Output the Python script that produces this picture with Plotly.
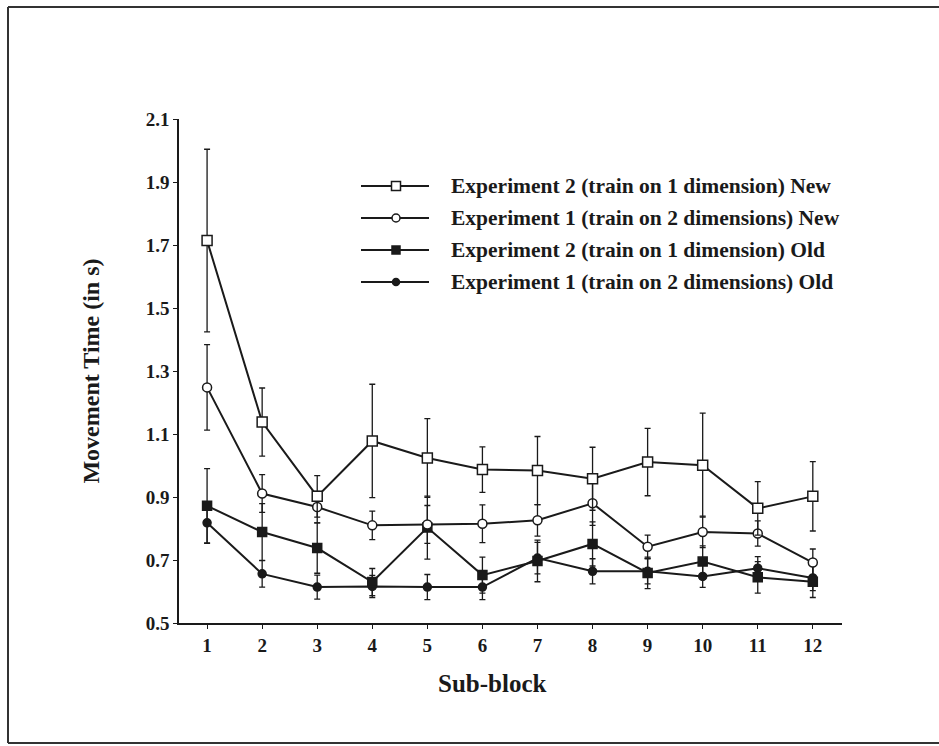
import plotly.graph_objects as go

# ---------------- data ----------------
sub_blocks = [1, 2, 3, 4, 5, 6, 7, 8, 9, 10, 11, 12]
tick_vals_y = [0.5, 0.7, 0.9, 1.1, 1.3, 1.5, 1.7, 1.9, 2.1]

series_names = [
    "Experiment 2 (train on 1 dimension) New",
    "Experiment 1 (train on 2 dimensions) New",
    "Experiment 2 (train on 1 dimension) Old",
    "Experiment 1 (train on 2 dimensions) Old",
]

exp2_new = [1.714, 1.138, 0.902, 1.078, 1.024, 0.987, 0.984, 0.958, 1.011, 1.001, 0.864, 0.902]
exp2_new_err = [0.29, 0.108, 0.066, 0.18, 0.125, 0.072, 0.108, 0.10, 0.107, 0.165, 0.085, 0.11]

exp1_new = [1.248, 0.911, 0.868, 0.810, 0.813, 0.815, 0.826, 0.880, 0.742, 0.789, 0.784, 0.692]
exp1_new_err = [0.136, 0.06, 0.05, 0.045, 0.06, 0.06, 0.05, 0.07, 0.037, 0.05, 0.04, 0.043]

exp2_old = [0.872, 0.789, 0.738, 0.630, 0.803, 0.652, 0.697, 0.751, 0.659, 0.695, 0.645, 0.631]
exp2_old_err = [0.118, 0.09, 0.08, 0.043, 0.10, 0.057, 0.066, 0.07, 0.05, 0.05, 0.05, 0.05]

exp1_old = [0.818, 0.656, 0.614, 0.616, 0.614, 0.614, 0.706, 0.664, 0.664, 0.648, 0.674, 0.643]
exp1_old_err = [0.065, 0.042, 0.038, 0.035, 0.04, 0.04, 0.05, 0.04, 0.04, 0.035, 0.037, 0.04]

values = [exp2_new, exp1_new, exp2_old, exp1_old]
errors = [exp2_new_err, exp1_new_err, exp2_old_err, exp1_old_err]

# ---------------- style ----------------
FONT = "Liberation Serif"
INK = "#1a1a1a"
styles = [
    dict(symbol="square", color="white", size=10),
    dict(symbol="circle", color="white", size=9),
    dict(symbol="square", color=INK, size=9),
    dict(symbol="circle", color=INK, size=8),
]

fig = go.Figure()

# draw old series first, new on top
for i in [3, 2, 1, 0]:
    st = styles[i]
    fig.add_trace(go.Scatter(
        x=sub_blocks, y=values[i], name=series_names[i],
        mode="lines+markers",
        line=dict(color=INK, width=2),
        marker=dict(symbol=st["symbol"], size=st["size"], color=st["color"],
                    line=dict(color=INK, width=1.5)),
        error_y=dict(type="data", array=errors[i], visible=True,
                     color=INK, thickness=1.3, width=3),
        showlegend=False,
    ))

W, H = 939, 746
L, R, T, B = 179, 97, 119, 123
pw, ph = W - L - R, H - T - B

def px_to_paper_x(px):
    return (px - L) / pw

def px_to_paper_y(py):
    return (H - B - py) / ph

# custom legend (long line samples like the original)
leg_rows_px = [186, 218, 250, 282]
for i in range(4):
    st = styles[i]
    yy = px_to_paper_y(leg_rows_px[i])
    fig.add_trace(go.Scatter(
        x=[px_to_paper_x(361), px_to_paper_x(429)], y=[yy, yy], xaxis="x2", yaxis="y2",
        mode="lines", line=dict(color=INK, width=2), showlegend=False,
        hoverinfo="skip"))
    fig.add_trace(go.Scatter(
        x=[px_to_paper_x(396)], y=[yy], xaxis="x2", yaxis="y2", mode="markers",
        marker=dict(symbol=st["symbol"], size=st["size"] - 1, color=st["color"],
                    line=dict(color=INK, width=1.5)),
        showlegend=False, hoverinfo="skip"))
    fig.add_annotation(x=px_to_paper_x(449), y=yy, xref="paper", yref="paper",
                       text=series_names[i], showarrow=False, xanchor="left",
                       yanchor="middle",
                       font=dict(family=FONT, size=21.5, color=INK, weight="bold"))

# x-axis title (slightly left of the plot centre, as in the original)
fig.add_annotation(x=px_to_paper_x(492), y=px_to_paper_y(683), xref="paper", yref="paper",
                   text="Sub-block", showarrow=False, xanchor="center", yanchor="middle",
                   font=dict(family=FONT, size=25, color=INK, weight="bold"))

# outer frame (top, left, bottom; right side runs past the picture)
frame_kw = dict(xref="paper", yref="paper", line=dict(color="#333333", width=2))
x_left, x_right = px_to_paper_x(8), px_to_paper_x(945)
y_top, y_bot = px_to_paper_y(7), px_to_paper_y(743)
fig.add_shape(type="line", x0=x_left, x1=x_right, y0=y_top, y1=y_top, **frame_kw)
fig.add_shape(type="line", x0=x_left, x1=x_left, y0=y_top, y1=y_bot, **frame_kw)
fig.add_shape(type="line", x0=x_left, x1=x_right, y0=y_bot, y1=y_bot, **frame_kw)

tickfont = dict(family=FONT, size=19, color=INK, weight="bold")

fig.update_layout(
    width=W, height=H,
    margin=dict(l=L, r=R, t=T, b=B),
    paper_bgcolor="white", plot_bgcolor="white",
    font=dict(family=FONT, color=INK),
    xaxis=dict(
        range=[0.49, 12.53], tickmode="array", tickvals=sub_blocks,
        ticktext=[str(v) for v in sub_blocks],
        showgrid=False, zeroline=False, showline=True, linecolor=INK,
        linewidth=1.5, ticks="outside", ticklen=4, tickwidth=1.2, tickcolor=INK,
        tickfont=tickfont,
    ),
    yaxis=dict(
        range=[0.5, 2.1], tickmode="array", tickvals=tick_vals_y,
        ticktext=["%.1f" % v for v in tick_vals_y],
        showgrid=False, zeroline=False, showline=True, linecolor=INK,
        linewidth=1.5, ticks="outside", ticklen=4, tickwidth=1.2, tickcolor=INK,
        tickfont=tickfont,
        title=dict(text="Movement Time (in s)",
                   font=dict(family=FONT, size=24, color=INK, weight="bold"),
                   standoff=39),
    ),
    xaxis2=dict(overlaying="x", range=[0, 1], visible=False),
    yaxis2=dict(overlaying="y", range=[0, 1], visible=False),
)

fig.write_html(
    "out.html",
    config={"displayModeBar": False},
    post_script="document.body.style.margin='0';document.body.style.overflow='hidden';",
)
